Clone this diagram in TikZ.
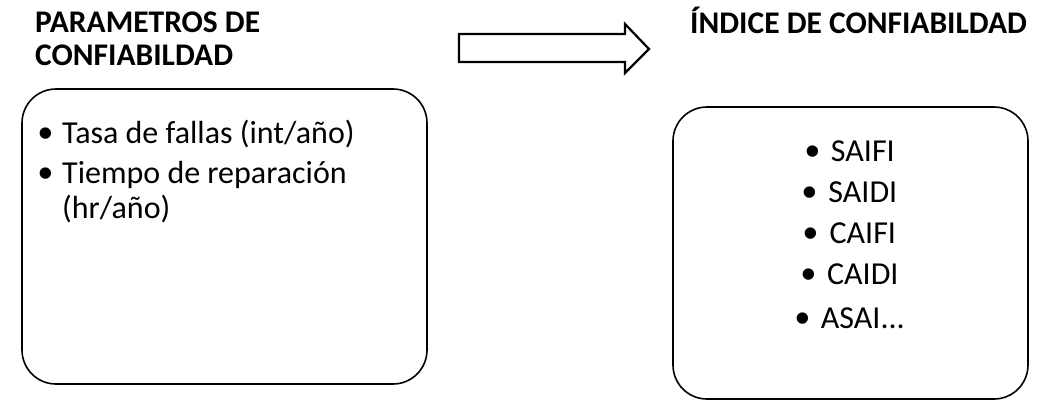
\documentclass[tikz,border=0pt]{standalone}
\usepackage{fontspec}
\setmainfont{Carlito}
\newfontfamily\bulfont{Liberation Sans}
\newcommand{\bul}{\raisebox{-4.5pt}{\bulfont\fontsize{42}{42}\selectfont •}}
\begin{document}
\begin{tikzpicture}[x=1pt,y=-1pt,
  title/.style={font=\bfseries\fontsize{31.5}{33}\selectfont, anchor=base west, inner sep=0pt},
  body/.style={font=\fontsize{32}{36}\selectfont, anchor=base west, inner sep=0pt},
  item/.style={font=\fontsize{32}{36}\selectfont, anchor=base, inner sep=0pt},
  panel/.style={draw, line width=1.6pt, rounded corners=34pt, inner sep=0pt},
  bigarrow/.style={draw, line width=2.2pt, fill=white, line join=miter}]
\useasboundingbox (0,0) rectangle (1037,400);
% titles
\node[title] (t1a) at (35,32) {PARAMETROS DE};
\node[title] (t1b) at (35,65) {CONFIABILDAD};
\node[title] (t2) at (690,33) {ÍNDICE DE CONFIABILDAD};
% arrow
\draw[bigarrow] (459,34) -- (625,34) -- (625,24) -- (649,49) -- (625,73) -- (625,62) -- (459,62) -- cycle;
% boxes
\node[panel, minimum width=405pt, minimum height=295pt] (left) at (224.5,236.5) {};
\node[panel, minimum width=355pt, minimum height=292pt] (right) at (850.5,253) {};
% left list
\node[body] (b1) at (38,143) {\bul};
\node[body] (l1) at (62,143) {Tasa de fallas (int/año)};
\node[body] (b2) at (38,183) {\bul};
\node[body] (l2) at (62,183) {Tiempo de reparación};
\node[body] (l3) at (62,218) {(hr/año)};
% right list
\node[item] (r1) at (850,161) {\bul\hspace{11pt}SAIFI};
\node[item] (r2) at (850,202) {\bul\hspace{11pt}SAIDI};
\node[item] (r3) at (850,243) {\bul\hspace{11pt}CAIFI};
\node[item] (r4) at (850,284) {\bul\hspace{11pt}CAIDI};
\node[item] (r5) at (850,328) {\bul\hspace{11pt}ASAI...};
\end{tikzpicture}
\end{document}
